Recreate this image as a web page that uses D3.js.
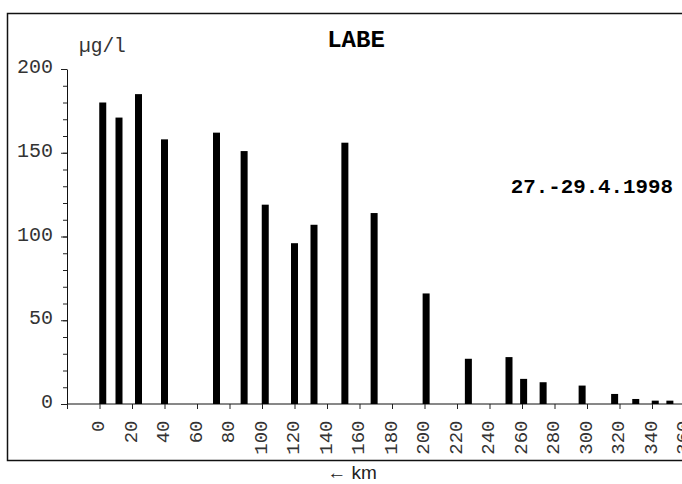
<!DOCTYPE html>
<html>
<head>
<meta charset="utf-8">
<script src="https://cdn.jsdelivr.net/npm/d3@7"></script>
<style>
  body { margin: 0; background: #fff; }
  svg { display: block; }
</style>
</head>
<body>
<div id="chart"></div>
<script>
// river km and concentration (µg/l)
var km = [2, 12, 24, 40, 72, 89, 102, 120, 132, 151, 169, 201, 227, 252, 261, 273, 297, 317, 330, 342, 351];
var conc = [180, 171, 185, 158, 162, 151, 119, 96, 107, 156, 114, 66, 27, 28, 15, 13, 11, 6, 3, 2, 2];
var xTicks = d3.range(-20, 361, 20);
var yTicks = [0, 50, 100, 150, 200];
var yMinorTicks = d3.range(0, 201, 10);

var width = 682, height = 484;
var mono = "Liberation Mono, Cousine, Courier New, monospace";

var svg = d3.select("#chart")
  .append("svg")
  .attr("width", width)
  .attr("height", height);

svg.append("rect")
  .attr("width", width)
  .attr("height", height)
  .attr("fill", "white");

// frame, runs off the right edge like the original
svg.append("rect")
  .attr("x", 7.5)
  .attr("y", 13.5)
  .attr("width", 720)
  .attr("height", 447)
  .attr("fill", "none")
  .attr("stroke", "#111")
  .attr("stroke-width", 1.5);

var x = d3.scaleLinear().domain([-20, 360]).range([67, 684.5]);
var y = d3.scaleLinear().domain([0, 200]).range([404, 69]);

// y axis: minor ticks every 10, labelled every 50
svg.append("g")
  .attr("transform", "translate(67,0)")
  .call(d3.axisLeft(y).tickValues(yMinorTicks).tickSize(4).tickSizeOuter(0).tickFormat(""))
  .call(g => g.selectAll("line").attr("stroke", "#222"))
  .call(g => g.select(".domain").attr("stroke", "#111"));

var yAxis = svg.append("g")
  .attr("transform", "translate(67,0)")
  .call(d3.axisLeft(y).tickValues(yTicks).tickSize(6).tickSizeOuter(0));
yAxis.select(".domain").remove();
yAxis.selectAll("line").attr("stroke", "#222");
yAxis.selectAll("text")
  .attr("x", -14)
  .attr("dy", "3.7")
  .style("font-family", mono)
  .style("font-size", "20px")
  .attr("fill", "#333");

// x axis
var xAxis = svg.append("g")
  .attr("transform", "translate(0,404)")
  .call(d3.axisBottom(x).tickValues(xTicks).tickSize(5).tickSizeOuter(0)
    .tickFormat(d => d < 0 ? "" : d));
xAxis.select(".domain").attr("stroke", "#111").attr("d", "M67,0H700");
xAxis.selectAll("line").attr("stroke", "#222");
xAxis.selectAll("text")
  .attr("transform", "rotate(-90)")
  .attr("x", -16.5)
  .attr("y", 4)
  .attr("dy", 0)
  .style("text-anchor", "end")
  .style("font-family", mono)
  .style("font-size", "19px")
  .attr("fill", "#333");

// bars
svg.selectAll(".bar")
  .data(km)
  .enter()
  .append("rect")
  .attr("class", "bar")
  .attr("x", (d, i) => x(d) - 3.5)
  .attr("y", (d, i) => y(conc[i]))
  .attr("width", 7)
  .attr("height", (d, i) => y(0) - y(conc[i]))
  .attr("fill", "black");

// texts
svg.append("text")
  .attr("x", 356)
  .attr("y", 47)
  .attr("text-anchor", "middle")
  .style("font-family", mono)
  .style("font-weight", "bold")
  .style("font-size", "24px")
  .text("LABE");

svg.append("text")
  .attr("x", 79)
  .attr("y", 52)
  .style("font-family", mono)
  .style("font-size", "19.5px")
  .attr("fill", "#333")
  .text("µg/l");

svg.append("text")
  .attr("x", 673)
  .attr("y", 192.5)
  .attr("text-anchor", "end")
  .style("font-family", mono)
  .style("font-weight", "bold")
  .style("font-size", "20.8px")
  .text("27.-29.4.1998");

svg.append("text")
  .attr("x", 352)
  .attr("y", 479)
  .attr("text-anchor", "middle")
  .style("font-family", "Liberation Sans Narrow, Liberation Sans, Arial, sans-serif")
  .style("font-size", "19px")
  .attr("fill", "#222")
  .text("← km");
</script>
</body>
</html>
